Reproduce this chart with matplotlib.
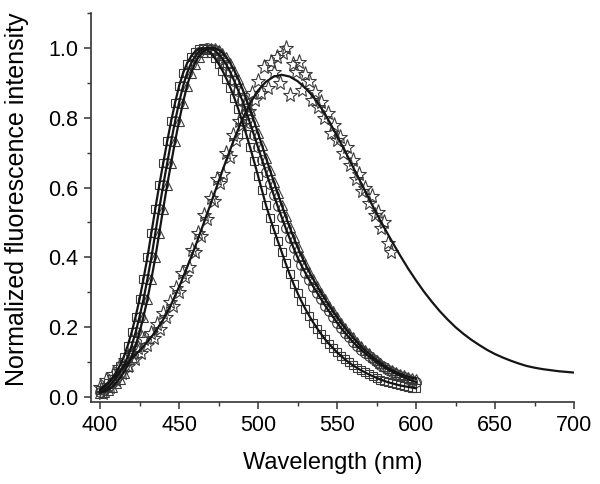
import numpy as np
import matplotlib
matplotlib.use("Agg")
from matplotlib import pyplot as plt
from matplotlib.ticker import MultipleLocator

plt.rcParams['font.family'] = ['Liberation Sans', 'DejaVu Sans']

# wavelength grid of the three blue-shifted spectra (nm)
wl = np.linspace(400, 600, 81)

squares = [0.020, 0.028, 0.040, 0.053, 0.070, 0.090, 0.115, 0.147, 0.185, 0.230,
           0.280, 0.338, 0.400, 0.470, 0.540, 0.607, 0.670, 0.732, 0.790, 0.843,
           0.890, 0.927, 0.955, 0.975, 0.989, 0.997, 1.000, 0.996, 0.986, 0.972,
           0.955, 0.935, 0.912, 0.886, 0.857, 0.825, 0.790, 0.753, 0.715, 0.675,
           0.634, 0.592, 0.550, 0.514, 0.480, 0.447, 0.415, 0.383, 0.352, 0.324,
           0.298, 0.274, 0.252, 0.232, 0.213, 0.196, 0.180, 0.165, 0.152, 0.140,
           0.128, 0.118, 0.108, 0.099, 0.091, 0.084, 0.077, 0.071, 0.065, 0.060,
           0.055, 0.050, 0.046, 0.042, 0.039, 0.036, 0.033, 0.031, 0.029, 0.027,
           0.025]

circles = [0.015, 0.020, 0.028, 0.040, 0.053, 0.070, 0.090, 0.115, 0.147, 0.185,
           0.230, 0.280, 0.338, 0.400, 0.470, 0.540, 0.607, 0.670, 0.732, 0.790,
           0.843, 0.890, 0.927, 0.955, 0.975, 0.989, 0.997, 1.000, 0.998, 0.993,
           0.983, 0.969, 0.952, 0.930, 0.905, 0.878, 0.850, 0.818, 0.784, 0.750,
           0.715, 0.680, 0.645, 0.611, 0.578, 0.546, 0.515, 0.484, 0.455, 0.427,
           0.400, 0.377, 0.355, 0.335, 0.316, 0.298, 0.280, 0.262, 0.245, 0.229,
           0.213, 0.198, 0.184, 0.171, 0.158, 0.147, 0.136, 0.126, 0.117, 0.108,
           0.100, 0.092, 0.085, 0.078, 0.072, 0.066, 0.061, 0.056, 0.051, 0.047,
           0.043]

triangles = [0.012, 0.015, 0.020, 0.028, 0.040, 0.053, 0.070, 0.090, 0.115, 0.147,
             0.185, 0.230, 0.280, 0.338, 0.400, 0.470, 0.540, 0.607, 0.670, 0.732,
             0.790, 0.843, 0.890, 0.927, 0.955, 0.975, 0.989, 0.997, 1.000, 1.000,
             0.995, 0.986, 0.973, 0.956, 0.935, 0.911, 0.884, 0.855, 0.823, 0.790,
             0.756, 0.721, 0.686, 0.651, 0.617, 0.583, 0.550, 0.518, 0.487, 0.458,
             0.430, 0.404, 0.380, 0.358, 0.337, 0.317, 0.298, 0.280, 0.262, 0.245,
             0.229, 0.213, 0.198, 0.184, 0.171, 0.158, 0.146, 0.135, 0.125, 0.115,
             0.106, 0.098, 0.090, 0.083, 0.077, 0.071, 0.066, 0.062, 0.058, 0.055,
             0.053]

# red-shifted spectrum: raw points (stars) and its fitted curve
star_wl = np.linspace(400, 584, 93)
stars = [0.030, 0.012, 0.048, 0.030, 0.065, 0.050, 0.085, 0.070, 0.105, 0.088,
         0.125, 0.108, 0.140, 0.125, 0.165, 0.150, 0.182, 0.170, 0.210, 0.195,
         0.240, 0.228, 0.272, 0.262, 0.312, 0.300, 0.355, 0.345, 0.372, 0.420,
         0.415, 0.470, 0.462, 0.520, 0.510, 0.570, 0.562, 0.625, 0.612, 0.640,
         0.700, 0.688, 0.750, 0.735, 0.790, 0.778, 0.835, 0.818, 0.870, 0.850,
         0.905, 0.870, 0.945, 0.885, 0.960, 0.930, 0.975, 0.900, 0.985, 1.000,
         0.865, 0.955, 0.930, 0.960, 0.880, 0.925, 0.905, 0.850, 0.875, 0.830,
         0.845, 0.800, 0.815, 0.755, 0.780, 0.735, 0.745, 0.700, 0.715, 0.665,
         0.680, 0.625, 0.640, 0.590, 0.600, 0.555, 0.575, 0.520, 0.530, 0.485,
         0.500, 0.440, 0.415]

fit_wl = np.linspace(400, 700, 61)
star_fit = [0.022, 0.040, 0.062, 0.086, 0.110, 0.133, 0.158, 0.187, 0.222, 0.265,
            0.315, 0.370, 0.428, 0.490, 0.553, 0.617, 0.680, 0.740, 0.795, 0.842,
            0.878, 0.903, 0.918, 0.923, 0.918, 0.905, 0.885, 0.860, 0.828, 0.790,
            0.748, 0.705, 0.660, 0.615, 0.570, 0.526, 0.484, 0.444, 0.405, 0.368,
            0.334, 0.302, 0.273, 0.246, 0.222, 0.200, 0.181, 0.164, 0.149, 0.135,
            0.123, 0.113, 0.104, 0.096, 0.089, 0.084, 0.080, 0.077, 0.074, 0.072,
            0.070]

fig = plt.figure(figsize=(6, 4.84), dpi=100)
ax = fig.add_axes([0.1517, 0.1694, 0.805, 0.8037])

mk = dict(linestyle='none', markerfacecolor='none', markeredgecolor='#3a3a3a',
          markeredgewidth=0.8)
ax.plot(wl, squares, marker='s', markersize=6, **mk)
ax.plot(wl, circles, marker='o', markersize=7, **mk)
ax.plot(wl, triangles, marker='^', markersize=7, **mk)
ax.plot(star_wl, stars, marker='*', markersize=11, **mk)

for y in (squares, circles, triangles):
    ax.plot(wl, y, color='#151515', lw=1.6)
ax.plot(fit_wl, star_fit, color='#151515', lw=1.6)

ax.set_xlim(394.3, 700)
ax.set_ylim(-0.0143, 1.1)
ax.xaxis.set_major_locator(MultipleLocator(50))
ax.xaxis.set_minor_locator(MultipleLocator(25))
ax.yaxis.set_major_locator(MultipleLocator(0.2))
ax.yaxis.set_minor_locator(MultipleLocator(0.1))
ax.yaxis.set_major_formatter(matplotlib.ticker.FormatStrFormatter('%.1f'))

for s in ('top', 'right'):
    ax.spines[s].set_visible(False)
for s in ('left', 'bottom'):
    ax.spines[s].set_linewidth(1.2)
    ax.spines[s].set_color('#333333')

ax.tick_params(which='major', direction='out', length=5, width=1.1,
               color='#333333', labelsize=15.5, pad=4)
ax.tick_params(which='minor', direction='out', length=3, width=1.0, color='#333333')

ax.set_xlabel('Wavelength (nm)', fontsize=17, labelpad=12)
ax.set_ylabel('Normalized fluorescence intensity', fontsize=18)
ax.yaxis.set_label_coords(-0.128, 0.52)

fig.savefig('out.png', dpi=100)
